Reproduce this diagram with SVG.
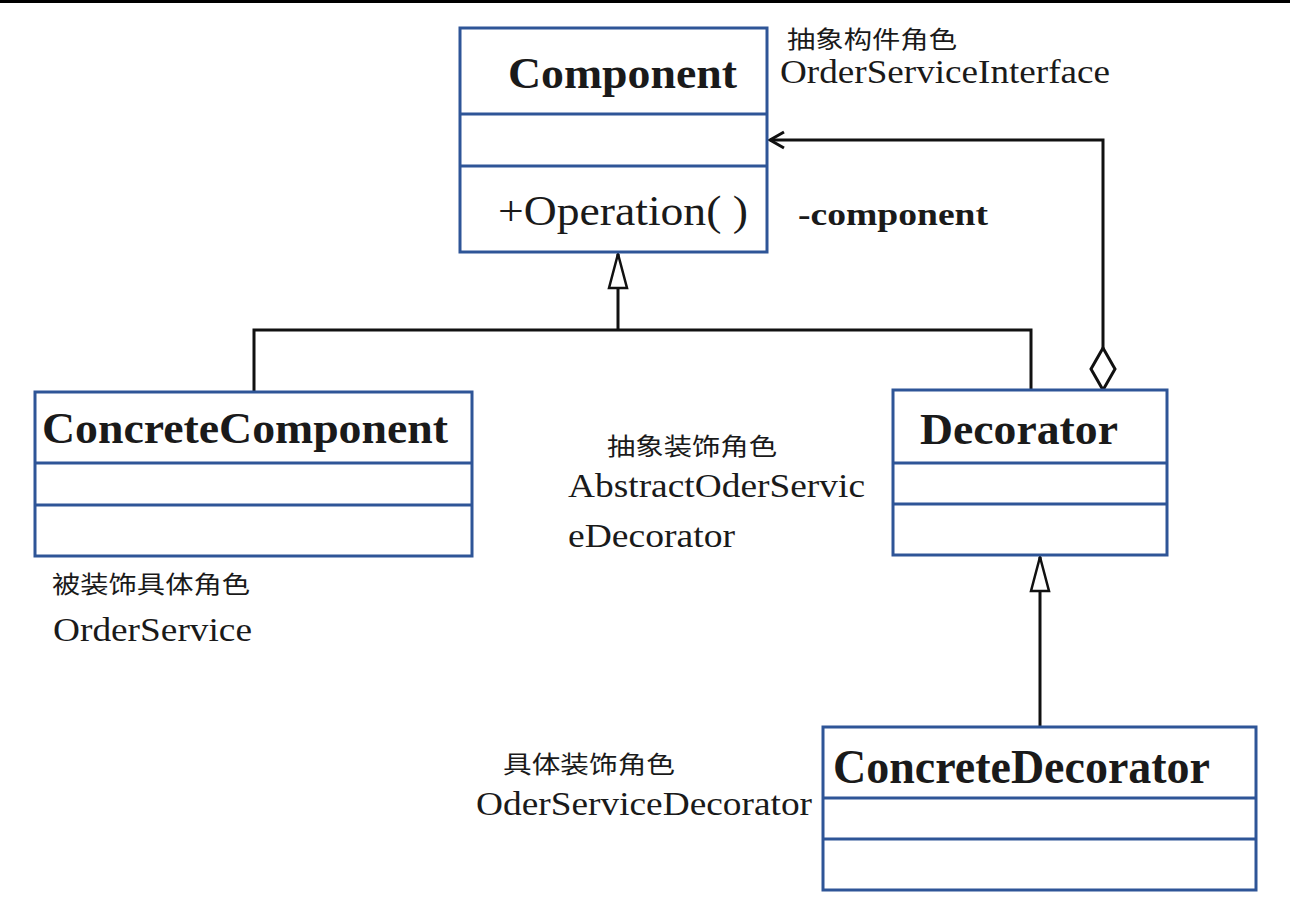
<svg xmlns="http://www.w3.org/2000/svg" width="1290" height="910" viewBox="0 0 1290 910">
<style>
.box{fill:#fff;stroke:#2e5597;stroke-width:3}
.div{stroke:#2e5597;stroke-width:3}
.ln{fill:none;stroke:#111;stroke-width:3}
.ttl{font-family:"Liberation Serif","Times New Roman",serif;font-weight:bold;fill:#1a1a1a}
.reg{font-family:"Liberation Serif","Times New Roman",serif;fill:#1a1a1a}
.cjk{font-family:"Noto Sans CJK SC","Noto Sans",sans-serif;fill:#1a1a1a}
</style>
<defs>
<marker id="tri" markerUnits="userSpaceOnUse" viewBox="-2 -2 38 22" markerWidth="38" markerHeight="22" refX="34" refY="9" orient="auto">
<path d="M0,0 L34,9 L0,18 Z" fill="#fff" stroke="#111" stroke-width="2.5"/>
</marker>
<marker id="dia" markerUnits="userSpaceOnUse" viewBox="-2 -2 46 28" markerWidth="46" markerHeight="28" refX="0" refY="12" orient="auto">
<path d="M0,12 L21,0 L42,12 L21,24 Z" fill="#fff" stroke="#111" stroke-width="3"/>
</marker>
<marker id="arr" markerUnits="userSpaceOnUse" viewBox="0 0 18 20" markerWidth="18" markerHeight="20" refX="15" refY="10" orient="auto">
<path d="M1,2 L15,10 L1,18" fill="none" stroke="#111" stroke-width="3"/>
</marker>
</defs>
<rect x="0" y="0" width="1290" height="3" fill="#000"/>
<g id="connectors">
<path class="ln" d="M254,392 L254,330 L1031,330 L1031,390"/>
<path class="ln" d="M618,330 L618,254" marker-end="url(#tri)"/>
<path class="ln" d="M1040,726 L1040,557" marker-end="url(#tri)"/>
<path class="ln" d="M1103,390 L1103,140 L770,140" marker-start="url(#dia)" marker-end="url(#arr)"/>
</g>
<g id="component">
<rect class="box" x="460" y="28" width="307" height="224"/>
<line class="div" x1="460" y1="114" x2="767" y2="114"/>
<line class="div" x1="460" y1="166" x2="767" y2="166"/>
<text class="ttl" x="508" y="88" font-size="45" textLength="229" lengthAdjust="spacingAndGlyphs">Component</text>
<text class="reg" x="498" y="225" font-size="42" textLength="250" lengthAdjust="spacingAndGlyphs">+Operation( )</text>
</g>
<g id="concreteComponent">
<rect class="box" x="35" y="392" width="437" height="164"/>
<line class="div" x1="35" y1="463" x2="472" y2="463"/>
<line class="div" x1="35" y1="505" x2="472" y2="505"/>
<text class="ttl" x="42" y="443" font-size="45" textLength="406" lengthAdjust="spacingAndGlyphs">ConcreteComponent</text>
</g>
<g id="decorator">
<rect class="box" x="893" y="390" width="274" height="165"/>
<line class="div" x1="893" y1="463" x2="1167" y2="463"/>
<line class="div" x1="893" y1="504" x2="1167" y2="504"/>
<text class="ttl" x="920" y="444" font-size="45" textLength="198" lengthAdjust="spacingAndGlyphs">Decorator</text>
</g>
<g id="concreteDecorator">
<rect class="box" x="823" y="727" width="433" height="163"/>
<line class="div" x1="823" y1="798" x2="1256" y2="798"/>
<line class="div" x1="823" y1="839" x2="1256" y2="839"/>
<text class="ttl" x="833" y="783" font-size="48" textLength="377" lengthAdjust="spacingAndGlyphs">ConcreteDecorator</text>
</g>
<g id="labels">
<text class="cjk" x="787" y="48" font-size="24" textLength="170" lengthAdjust="spacingAndGlyphs">抽象构件角色</text>
<text class="reg" x="780" y="83" font-size="33" textLength="330" lengthAdjust="spacingAndGlyphs">OrderServiceInterface</text>
<text class="ttl" x="798" y="225" font-size="32" textLength="190" lengthAdjust="spacingAndGlyphs">-component</text>
<text class="cjk" x="607" y="455" font-size="24" textLength="170" lengthAdjust="spacingAndGlyphs">抽象装饰角色</text>
<text class="reg" x="568" y="497" font-size="33" textLength="297" lengthAdjust="spacingAndGlyphs">AbstractOderServic</text>
<text class="reg" x="568" y="547" font-size="33" textLength="167" lengthAdjust="spacingAndGlyphs">eDecorator</text>
<text class="cjk" x="52" y="593" font-size="24" textLength="198" lengthAdjust="spacingAndGlyphs">被装饰具体角色</text>
<text class="reg" x="53" y="641" font-size="33" textLength="199" lengthAdjust="spacingAndGlyphs">OrderService</text>
<text class="cjk" x="503" y="773" font-size="24" textLength="172" lengthAdjust="spacingAndGlyphs">具体装饰角色</text>
<text class="reg" x="476" y="815" font-size="33" textLength="336" lengthAdjust="spacingAndGlyphs">OderServiceDecorator</text>
</g>
</svg>
